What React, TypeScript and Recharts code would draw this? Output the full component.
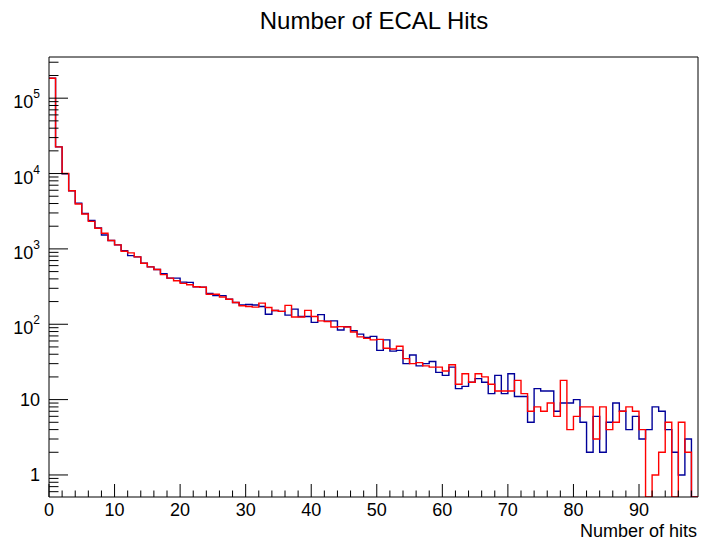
import React from 'react';
import { LineChart, Line, XAxis, YAxis, ReferenceLine } from 'recharts';

// Histogram: "Number of ECAL Hits", bins of width 1 from 0 to 99 (bin i covers [i, i+1))
const blueCounts = [
  184000, 22600, 9900, 5900, 4050, 2950, 2380, 1900, 1530, 1290,
  1130, 950, 815, 783, 646, 578, 532, 470, 409, 409,
  362, 360, 315, 310, 256, 240, 240, 215, 194, 180,
  183, 180, 172, 136, 152, 148, 132, 159, 127, 127,
  106, 134, 110, 111, 84, 93, 82, 74, 67, 69,
  45, 62, 44, 45, 30, 39, 28, 30, 32, 23,
  21, 27, 14, 15, 17, 19, 17, 12, 21, 12,
  22, 11, 11, 5, 14, 13, 13, 7, 9, 9,
  10, 5, 2, 6, 2, 5, 9, 7, 4, 6,
  3, 4, 8, 7, 4, 2, 1, 3, 0,
];

const redCounts = [
  184000, 22600, 10000, 5900, 3950, 2900, 2320, 1880, 1610, 1290,
  1130, 930, 885, 783, 646, 578, 532, 455, 409, 377,
  349, 335, 315, 310, 250, 250, 230, 215, 194, 176,
  172, 169, 191, 167, 152, 148, 178, 125, 125, 153,
  127, 111, 109, 92, 93, 92, 79, 68, 65, 62,
  63, 48, 47, 51, 35, 30, 31, 28, 27, 27,
  24, 29, 16, 22, 17, 22, 20, 16, 13, 13,
  13, 18, 12, 7, 8, 7, 9, 6, 18, 4,
  6, 8, 8, 3, 8, 4, 5, 7, 8, 7,
  4, 0, 1, 2, 5, 0, 5, 2, 0,
];

const xMajorTicks = [0, 10, 20, 30, 40, 50, 60, 70, 80, 90];
const xTickLabels = ['0', '10', '20', '30', '40', '50', '60', '70', '80', '90'];
const yMajorTicks = [1, 10, 100, 1000, 10000, 100000];
const yTickLabels = [
  { base: '1', exp: '' },
  { base: '10', exp: '' },
  { base: '10', exp: '2' },
  { base: '10', exp: '3' },
  { base: '10', exp: '4' },
  { base: '10', exp: '5' },
];

const TITLE = 'Number of ECAL Hits';
const X_TITLE = 'Number of hits';

const X_MIN = 0;
const X_MAX = 99;
const Y_MIN = 0.51;
const Y_MAX = 352000;

const W = 714;
const H = 540;
const LEFT = 49;
const RIGHT_M = 16;
const TOP = 57;
const BOTTOM_M = 43;
const PLOT_BOTTOM = H - BOTTOM_M;
const FONT = '"Liberation Sans", Arial, Helvetica, sans-serif';

// minor ticks: every 2 units on x; 2..9 x decade on log y
const xTicks: number[] = [];
for (let v = X_MIN; v < X_MAX; v += 2) xTicks.push(v);
const yTicks: number[] = [];
for (let d = -1; d <= 5; d++) {
  for (let m = 1; m <= 9; m++) {
    const v = m * Math.pow(10, d);
    if (v >= Y_MIN && v <= Y_MAX) yTicks.push(Number(v.toPrecision(6)));
  }
}

const chartData = Array.from({ length: blueCounts.length + 1 }, (_, i) => {
  const k = Math.min(i, blueCounts.length - 1);
  return {
    x: i,
    blue: Math.max(blueCounts[k], Y_MIN),
    red: Math.max(redCounts[k], Y_MIN),
  };
});

function XTick(props: any) {
  const { x, payload } = props;
  const v = payload.value;
  const idx = xMajorTicks.indexOf(v);
  const major = idx >= 0;
  return (
    <g>
      <line x1={x} x2={x} y1={PLOT_BOTTOM} y2={PLOT_BOTTOM - (major ? 13 : 6.5)} stroke="#000" strokeWidth={1} />
      {major && (
        <text x={x} y={516} textAnchor="middle" fontSize={18} fontFamily={FONT} fill="#000">
          {xTickLabels[idx]}
        </text>
      )}
    </g>
  );
}

function YTick(props: any) {
  const { y, payload } = props;
  const v = payload.value;
  const idx = yMajorTicks.findIndex((t) => Math.abs(t - v) / t < 1e-6);
  const major = idx >= 0;
  const lab = major ? yTickLabels[idx] : null;
  return (
    <g>
      <line x1={LEFT} x2={LEFT + (major ? 19 : 9.5)} y1={y} y2={y} stroke="#000" strokeWidth={1} />
      {lab && (
        <text
          x={LEFT - 9}
          y={y + (lab.exp ? 10 : 6.5)}
          textAnchor="end"
          fontSize={18}
          fontFamily={FONT}
          fill="#000"
        >
          {lab.base}
          {lab.exp && (
            <tspan fontSize={12} dy={-10}>
              {lab.exp}
            </tspan>
          )}
        </text>
      )}
    </g>
  );
}

export default function App() {
  return (
    <div style={{ position: 'absolute', left: 0, top: 0, width: W, height: H, background: '#fff' }}>
      <LineChart
        width={W}
        height={H}
        data={chartData}
        margin={{ top: TOP, right: RIGHT_M, bottom: BOTTOM_M - 1, left: LEFT - 1 }}
      >
        <XAxis
          dataKey="x"
          type="number"
          domain={[X_MIN, X_MAX]}
          allowDataOverflow
          ticks={xTicks}
          interval={0}
          tick={(p: any) => <XTick {...p} />}
          tickLine={false}
          height={1}
          axisLine={{ stroke: '#000', strokeWidth: 1 }}
        />
        <YAxis
          type="number"
          scale="log"
          domain={[Y_MIN, Y_MAX]}
          allowDataOverflow
          ticks={yTicks}
          interval={0}
          tick={(p: any) => <YTick {...p} />}
          tickLine={false}
          width={1}
          axisLine={{ stroke: '#000', strokeWidth: 1 }}
        />
        <ReferenceLine y={Y_MAX} stroke="#000" strokeWidth={1} />
        <ReferenceLine x={X_MAX} stroke="#000" strokeWidth={1} />
        <Line
          type="stepAfter"
          dataKey="blue"
          stroke="#000099"
          strokeWidth={1.4}
          dot={false}
          activeDot={false}
          isAnimationActive={false}
        />
        <Line
          type="stepAfter"
          dataKey="red"
          stroke="#ff0000"
          strokeWidth={1.4}
          dot={false}
          activeDot={false}
          isAnimationActive={false}
        />
      </LineChart>
      <svg
        width={W}
        height={H}
        style={{ position: 'absolute', left: 0, top: 0, pointerEvents: 'none' }}
      >
        <text x={374} y={29} textAnchor="middle" fontSize={24} fontFamily={FONT} fill="#000">
          {TITLE}
        </text>
        <text x={697} y={537} textAnchor="end" fontSize={18} fontFamily={FONT} fill="#000">
          {X_TITLE}
        </text>
      </svg>
    </div>
  );
}
